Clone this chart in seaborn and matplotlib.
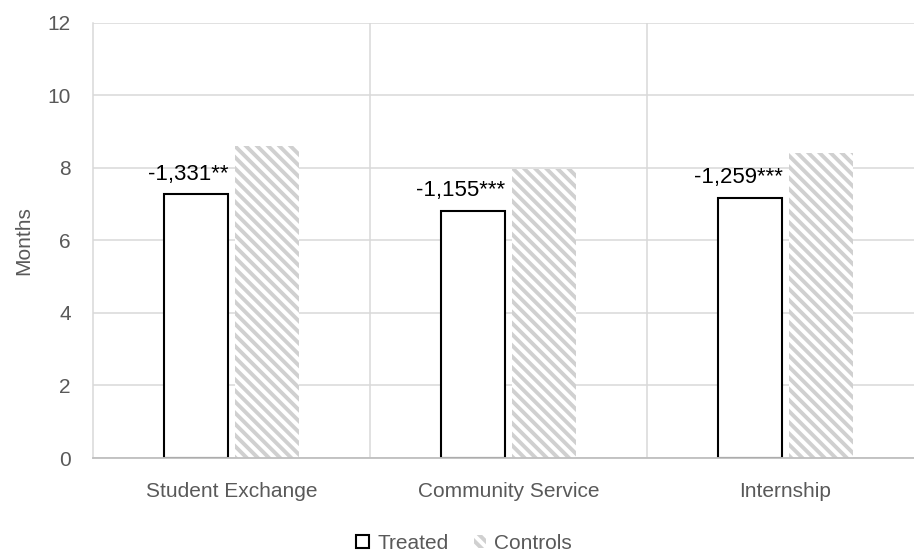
import pandas as pd
import matplotlib
matplotlib.use("Agg")
import matplotlib.pyplot as plt
import seaborn as sns
from matplotlib.patches import Patch

# =====================================================
# DATA
# =====================================================

categories = ["Student Exchange", "Community Service", "Internship"]
treated = [7.27, 6.81, 7.17]
controls = [8.60, 7.98, 8.41]
effect_labels = ["-1,331**", "-1,155***", "-1,259***"]
groups = ["Treated", "Controls"]

df = pd.DataFrame({
    "Program": categories * 2,
    "Group": [groups[0]] * 3 + [groups[1]] * 3,
    "Months": treated + controls
})

# =====================================================
# STYLE
# =====================================================

sns.set_style("white")
plt.rcParams["font.family"] = ["Liberation Sans", "DejaVu Sans"]
plt.rcParams["hatch.linewidth"] = 2.8

grey_text = "#595959"
grid_col = "#d9d9d9"
hatch_col = "#d0d0d0"
hatch = "\\\\\\"

fig = plt.figure(figsize=(9.14, 5.52), dpi=100)
ax = fig.add_axes([93 / 914, 94 / 552, 831 / 914, 435.3 / 552])

# =====================================================
# BARS
# =====================================================

sns.barplot(
    data=df,
    x="Program",
    y="Months",
    hue="Group",
    width=0.506,
    gap=0.087,
    ax=ax,
    legend=False
)

for bar in ax.containers[0]:
    bar.set_facecolor("white")
    bar.set_edgecolor("black")
    bar.set_linewidth(1.5)

for bar in ax.containers[1]:
    bar.set_facecolor("white")
    bar.set_edgecolor(hatch_col)
    bar.set_hatch(hatch)
    bar.set_linewidth(0)

# effect labels above treated bars
for bar, txt in zip(ax.containers[0], effect_labels):
    ax.annotate(
        txt,
        (bar.get_x() + bar.get_width(), bar.get_height()),
        xytext=(0, 7),
        textcoords="offset points",
        ha="right",
        va="bottom",
        fontsize=16,
        color="black"
    )

# =====================================================
# AXES
# =====================================================

ax.set_ylim(0, 12)
ax.set_yticks(range(0, 13, 2))
ax.set_xlim(-0.5, 2.5)
ax.set_xticks([0.5, 1.5], minor=True)

ax.grid(axis="y", color=grid_col, linewidth=1.1)
ax.grid(axis="x", which="minor", color=grid_col, linewidth=1.1)
ax.set_axisbelow(True)

for side in ["top", "right"]:
    ax.spines[side].set_visible(False)
ax.spines["left"].set_color(grid_col)
ax.spines["left"].set_linewidth(1.1)
ax.spines["bottom"].set_color("#bfbfbf")
ax.spines["bottom"].set_linewidth(1.3)

ax.tick_params(axis="y", length=0, pad=16, labelsize=15, labelcolor=grey_text)
ax.tick_params(axis="x", which="both", length=0, pad=17, labelsize=15, labelcolor=grey_text)

ax.set_xlabel("")
ax.set_ylabel("Months", fontsize=15, color=grey_text, labelpad=10)

# =====================================================
# LEGEND
# =====================================================

handles = [
    Patch(facecolor="white", edgecolor="black", linewidth=1.5, label=groups[0]),
    Patch(facecolor="white", edgecolor=hatch_col, hatch=hatch, linewidth=0, label=groups[1])
]

fig.legend(
    handles=handles,
    loc="center",
    bbox_to_anchor=(0.508, 0.016),
    ncol=2,
    frameon=False,
    fontsize=15,
    labelcolor=grey_text,
    handlelength=0.6,
    handleheight=0.6,
    handletextpad=0.4,
    columnspacing=1.2
)

fig.savefig("out.png", dpi=100)
